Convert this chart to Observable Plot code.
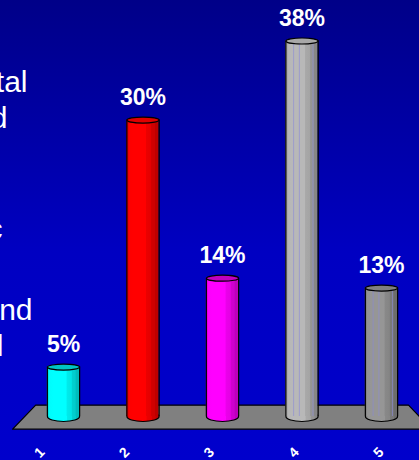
<!DOCTYPE html>
<html>
<head>
<meta charset="utf-8">
<script src="https://cdn.jsdelivr.net/npm/d3@7"></script>
<script src="https://cdn.jsdelivr.net/npm/@observablehq/plot@0.6"></script>
<style>
  html, body { margin: 0; padding: 0; width: 419px; height: 460px; overflow: hidden; }
  body { background: linear-gradient(#000088, #0000c2 55%, #0000cc); }
  svg { display: block; background: transparent !important; font-family: "Liberation Sans", Arial, sans-serif; }
</style>
</head>
<body>
<div id="chart"></div>
<script>
const categories = [1, 2, 3, 4, 5];
const shares = [5, 30, 14, 38, 13];
const bodyColors = [
  ["#00ffff", "#00bcbc"],
  ["#ff0000", "#bc0000"],
  ["#ff00ff", "#bc00bc"],
  ["#b8b8b8", "#868686"],
  ["#969696", "#6c6c6c"]
];
const capColors = ["#00c4c4", "#e00000", "#c000c0", "#a8a8a8", "#808080"];
const floorX = [0.36, 0.65, 5.34, 5.63, 0.36];
const floorY = [-1.28, 1.15, 1.15, -1.28, -1.28];

const rows = categories.map((c, i) => ({c, v: shares[i], i}));
const halfWidth = 0.203;
const greyRows = rows.filter(d => d.i >= 3);
const facetLines = [0.24, 0.42, 0.84];

// Elliptical symbol for the cylinder caps and feet.
const ellipse = (rx, ry) => ({
  draw(ctx) {
    ctx.moveTo(rx, 0);
    ctx.bezierCurveTo(rx, ry * 0.55, rx * 0.55, ry, 0, ry);
    ctx.bezierCurveTo(-rx * 0.55, ry, -rx, ry * 0.55, -rx, 0);
    ctx.bezierCurveTo(-rx, -ry * 0.55, -rx * 0.55, -ry, 0, -ry);
    ctx.bezierCurveTo(rx * 0.55, -ry, rx, -ry * 0.55, rx, 0);
  }
});

// Faceted horizontal shading across each cylinder.
function gradients() {
  const svgNS = "http://www.w3.org/2000/svg";
  const defs = document.createElementNS(svgNS, "defs");
  bodyColors.forEach(([light, dark], i) => {
    const g = document.createElementNS(svgNS, "linearGradient");
    g.setAttribute("id", "cyl" + i);
    const mix = d3.interpolateRgb(light, dark);
    const stops = [[0, 0.5], [0.06, 0.35], [0.08, 0.05], [0.2, 0], [0.6, 0], [0.62, 0.3], [0.76, 0.4], [0.78, 0.7], [0.88, 0.75], [0.9, 1], [1, 1]];
    stops.forEach(([o, t]) => {
      const s = document.createElementNS(svgNS, "stop");
      s.setAttribute("offset", o);
      s.setAttribute("stop-color", mix(t));
      g.appendChild(s);
    });
    defs.appendChild(g);
  });
  return defs;
}

const chart = Plot.plot({
  width: 419,
  height: 460,
  margin: 0,
  style: {background: "transparent"},
  x: {domain: [1, 5], range: [63, 381], axis: null},
  y: {domain: [0, 38], range: [416, 40.5], axis: null},
  marks: [
    () => gradients(),
    // Side text running in from the left edge
    ...[["tal", 27, 91], ["d", 7, 127], ["c", 2, 238], ["nd", 32, 319], ["l", 3, 355]].map(([t, dx, dy]) =>
      Plot.text([t], {text: d => d, frameAnchor: "top-left", dx, dy, textAnchor: "end", lineAnchor: "bottom",
        fill: "white", fontSize: 30})),
    // Floor slab
    Plot.line(floorX.map((x, i) => [x, floorY[i]]), {x: "0", y: "1", fill: "#808080", stroke: "black", strokeWidth: 1.2}),
    // Cylinder feet, bodies, edges, caps
    Plot.dot(rows, {x: "c", y: () => 0, symbol: () => ellipse(16.1, 5), r: 5, fill: d => `url(#cyl${d.i})`, stroke: "black", strokeWidth: 1.2}),
    Plot.rect(rows, {x1: d => d.c - halfWidth, x2: d => d.c + halfWidth, y1: () => 0, y2: "v", fill: d => `url(#cyl${d.i})`}),
    ...facetLines.map(f => Plot.ruleX(greyRows, {x: d => d.c - halfWidth + 2 * halfWidth * f, y1: () => 0, y2: "v", stroke: "#8a8ad8", strokeOpacity: 0.6, strokeWidth: 1})),
    Plot.ruleX(rows, {x: d => d.c - halfWidth, y1: () => 0, y2: "v", stroke: "black", strokeWidth: 1.2}),
    Plot.ruleX(rows, {x: d => d.c + halfWidth, y1: () => 0, y2: "v", stroke: "black", strokeWidth: 1.2}),
    Plot.dot(rows, {x: "c", y: "v", symbol: () => ellipse(16.1, 3), r: 5, fill: d => capColors[d.i], stroke: "black", strokeWidth: 1.2}),
    // Value labels
    Plot.text(rows, {x: "c", y: "v", text: d => d.v + "%", dy: -15, lineAnchor: "bottom", fill: "white", fontWeight: "bold", fontSize: 23}),
    // Category labels along the front edge of the floor
    ...rows.map(d => Plot.text([d], {x: "c", y: () => 0, text: d => String(d.c), dx: -24 + d.i * 5.3, dy: 36, rotate: -45,
      fill: "white", fontWeight: "bold", fontSize: 14}))
  ]
});
document.getElementById("chart").appendChild(chart);
</script>
</body>
</html>
